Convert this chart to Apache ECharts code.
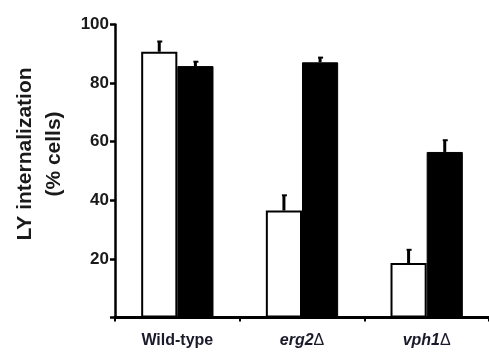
<!DOCTYPE html>
<html><head><meta charset="utf-8">
<script src="https://cdn.jsdelivr.net/npm/echarts@6/dist/echarts.min.js"></script>
<style>html,body{margin:0;padding:0;background:#fff}#c{width:489px;height:358px}</style>
</head><body><div id="c"></div>
<script>
const categories = ['Wild-type', 'erg2', 'vph1'];
const whiteValues = [90.7, 36.5, 18.6];
const whiteErrors = [3.5, 5.2, 4.5];
const blackValues = [85.8, 87.1, 56.5];
const blackErrors = [1.5, 1.6, 4.0];
const yTicks = [0, 20, 40, 60, 80, 100];

const chart = echarts.init(document.getElementById('c'));
const BW = 0.29;
function errSeries(vals, errs, side) {
  return {
    type: 'custom', z: 5,
    data: vals.map((v, i) => [i, v, v + errs[i]]),
    renderItem: function (params, api) {
      const band = api.size([1, 0])[0];
      const off = side * band * BW / 2;
      const p0 = api.coord([api.value(0), api.value(1)]);
      const p1 = api.coord([api.value(0), api.value(2)]);
      const x = p0[0] + off;
      return {
        type: 'group', children: [
          { type: 'line', shape: { x1: x, y1: p0[1], x2: x, y2: p1[1] }, style: { stroke: '#000', lineWidth: 3 } },
          { type: 'line', shape: { x1: x - 2, y1: p1[1], x2: x + 3, y2: p1[1] }, style: { stroke: '#000', lineWidth: 2 } }
        ]
      };
    }
  };
}
chart.setOption({
  animation: false,
  grid: { left: 115, right: -4, top: 24.5, bottom: 40.5 },
  xAxis: {
    type: 'category', data: categories,
    axisLine: { lineStyle: { color: '#000', width: 3 } },
    axisTick: { show: true, length: 4, lineStyle: { color: '#000', width: 2 } },
    axisLabel: {
      margin: 15,
      formatter: function (v) {
        if (v === 'Wild-type') return '{n|Wild-type}';
        return '{i|' + v + '}{d|Δ}';
      },
      rich: {
        n: { fontFamily: 'Liberation Sans, Arial', fontWeight: 'bold', fontSize: 16, color: '#1a1a2a' },
        i: { fontFamily: 'Liberation Sans, Arial', fontWeight: 'bold', fontStyle: 'italic', fontSize: 16, color: '#1a1a2a' },
        d: { fontFamily: 'Liberation Sans, Arial', fontWeight: 'normal', fontSize: 16, color: '#1a1a2a' }
      }
    }
  },
  yAxis: {
    type: 'value', min: 0, max: 100, interval: 20,
    splitLine: { show: false },
    axisLine: { show: true, lineStyle: { color: '#000', width: 2.5 } },
    axisTick: { show: true, length: 5, lineStyle: { color: '#000', width: 2.5 } },
    axisLabel: {
      margin: 6,
      fontFamily: 'Liberation Sans, Arial', fontWeight: 'bold', fontSize: 17, color: '#1a1a1a',
      formatter: function (v) { return yTicks.indexOf(v) > 0 ? String(v) : ''; }
    }
  },
  graphic: [{
    type: 'text', x: 40, y: 154, rotation: Math.PI / 2,
    style: {
      text: 'LY internalization\n(% cells)', align: 'center', verticalAlign: 'middle',
      fontFamily: 'Liberation Sans, Arial', fontWeight: 'bold', fontSize: 21, lineHeight: 29, fill: '#1a1a1a'
    }
  }],
  series: [
    { type: 'bar', data: whiteValues, barWidth: (BW * 100) + '%', barGap: '0%',
      itemStyle: { color: '#fff', borderColor: '#000', borderWidth: 2 } },
    { type: 'bar', data: blackValues, barWidth: (BW * 100) + '%', barGap: '0%',
      itemStyle: { color: '#000', borderColor: '#000', borderWidth: 1 } },
    errSeries(whiteValues, whiteErrors, -1),
    errSeries(blackValues, blackErrors, 1)
  ]
});
</script></body></html>
